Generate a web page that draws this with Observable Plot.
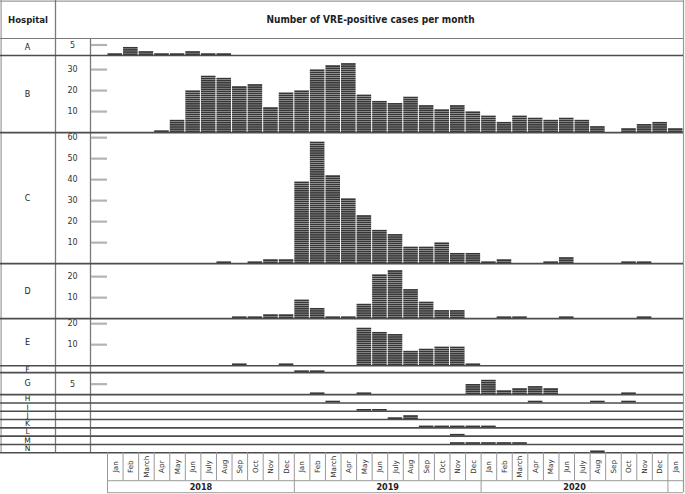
<!DOCTYPE html>
<html><head><meta charset="utf-8">
<script src="https://cdn.jsdelivr.net/npm/d3@7"></script>
<script src="https://cdn.jsdelivr.net/npm/@observablehq/plot@0.6"></script>
<style>
html,body{margin:0;padding:0;background:#fff;}
#chart svg{display:block;}
</style>
</head><body><div id="chart"></div>
<script>
// ---------- data ----------
const hospitals = ["A","B","C","D","E","F","G","H","I","J","K","L","M","N"];
const monthNames = ["Jan","Feb","March","Apr","May","Jun","July","Aug","Sep","Oct","Nov","Dec"];
const years = ["2018","2019","2020"];
const monthLabels = [...monthNames, ...monthNames, ...monthNames, "Jan"]; // Jan 2018 .. Jan 2021
const title = "Number of VRE-positive cases per month";

// monthly VRE-positive cases, Jan 2018 .. Jan 2021 (37 months)
const casesA = [1,4,2,1,1,2,1,1,0,0,0,0, 0,0,0,0,0,0,0,0,0,0,0,0, 0,0,0,0,0,0,0,0,0,0,0,0, 0];
const casesB = [0,0,0,1,6,20,27,26,22,23,12,19, 20,30,32,33,18,15,14,17,13,11,13,10, 8,5,8,7,6,7,6,3,0,2,4,5, 2];
const casesC = [0,0,0,0,0,0,0,1,0,1,2,2, 39,58,42,31,23,16,14,8,8,10,5,5, 1,2,0,0,1,3,0,0,0,1,1,0, 0];
const casesD = [0,0,0,0,0,0,0,0,1,1,2,2, 9,5,1,1,7,21,23,14,8,4,4,0, 0,1,1,0,0,1,0,0,0,0,1,0, 0];
const casesE = [0,0,0,0,0,0,0,0,1,0,0,1, 0,0,0,0,18,16,15,7,8,9,9,1, 0,0,0,0,0,0,0,0,0,0,0,0, 0];
const casesF = [0,0,0,0,0,0,0,0,0,0,0,0, 1,1,0,0,0,0,0,0,0,0,0,0, 0,0,0,0,0,0,0,0,0,0,0,0, 0];
const casesG = [0,0,0,0,0,0,0,0,0,0,0,0, 0,1,0,0,1,0,0,0,0,0,0,5, 7,2,3,4,3,0,0,0,0,1,0,0, 0];
const casesH = [0,0,0,0,0,0,0,0,0,0,0,0, 0,0,1,0,0,0,0,0,0,0,0,0, 0,0,0,1,0,0,0,1,0,1,0,0, 0];
const casesI = [0,0,0,0,0,0,0,0,0,0,0,0, 0,0,0,0,1,1,0,0,0,0,0,0, 0,0,0,0,0,0,0,0,0,0,0,0, 0];
const casesJ = [0,0,0,0,0,0,0,0,0,0,0,0, 0,0,0,0,0,0,1,2,0,0,0,0, 0,0,0,0,0,0,0,0,0,0,0,0, 0];
const casesK = [0,0,0,0,0,0,0,0,0,0,0,0, 0,0,0,0,0,0,0,0,1,1,1,1, 1,0,0,0,0,0,0,0,0,0,0,0, 0];
const casesL = [0,0,0,0,0,0,0,0,0,0,0,0, 0,0,0,0,0,0,0,0,0,0,1,0, 0,0,0,0,0,0,0,0,0,0,0,0, 0];
const casesM = [0,0,0,0,0,0,0,0,0,0,0,0, 0,0,0,0,0,0,0,0,0,0,1,1, 1,1,1,0,0,0,0,0,0,0,0,0, 0];
const casesN = [0,0,0,0,0,0,0,0,0,0,0,0, 0,0,0,0,0,0,0,0,0,0,0,0, 0,0,0,0,0,0,0,1,0,0,0,0, 0];
const allCases = [casesA,casesB,casesC,casesD,casesE,casesF,casesG,casesH,casesI,casesJ,casesK,casesL,casesM,casesN];

// y tick values shown per hospital
const ticksA = [5];
const ticksB = [10,20,30];
const ticksC = [10,20,30,40,50,60];
const ticksD = [10,20];
const ticksE = [10,20];
const ticksG = [5];
const allTicks = [ticksA,ticksB,ticksC,ticksD,ticksE,[],ticksG,[],[],[],[],[],[],[]];

// ---------- layout (in case units / month units) ----------
const W = 685, H = 494;
const UNIT = 2.1;                    // px per case
const X0 = 107, X1 = 683;            // month grid extent (px)
const MONTH = (X1 - X0) / 37;
const px2x = p => (p - X0) / MONTH;
const px2y = p => p / UNIT;
const headerSpan = px2y(38);
const rowSpan = [8.1, 36.7, 62.4, 26.2, 22.4, 3.3, 10.5, 3.95, 3.95, 3.95, 3.95, 3.95, 3.95, 3.95];
const base = [];
{ let acc = headerSpan; rowSpan.forEach((s, i) => { acc += s; base[i] = acc; }); }
const tableBottom = base[base.length - 1];
const monthRowBottom = tableBottom + px2y(28);
const yearRowBottom = monthRowBottom + px2y(12);

// derived mark data
const cells = [];
allCases.forEach((arr, h) => arr.forEach((v, m) => {
  for (let k = 0; k < v; k++) cells.push({m, lo: base[h] - k, hi: base[h] - k - 1});
}));
const tickRows = [];
allTicks.forEach((arr, h) => arr.forEach(v => tickRows.push({v, y: base[h] - v})));
const labelRows = hospitals.map((name, h) => ({name, y: base[h] - rowSpan[h] / 2, thin: rowSpan[h] < 5}));
const monthRows = monthLabels.map((t, i) => ({t, i}));
const yearRows = years.map((t, i) => ({t, i}));

const lineCol = "#7a7a7a";
const sepCol = "#4d4d4d";
const font = "'DejaVu Sans Condensed', 'DejaVu Sans', sans-serif";

const chart = Plot.plot({
  width: W, height: H, margin: 0,
  style: {fontFamily: "'DejaVu Sans', sans-serif", background: "#fff", overflow: "visible"},
  x: {domain: [0, 37], range: [X0, X1], axis: null},
  y: {domain: [0, H / UNIT], range: [0, H], axis: null},
  marks: [
    // outer frame and column dividers
    Plot.ruleY([0.25], {x1: px2x(0), x2: 37, stroke: "#999", strokeWidth: 1.2}),
    Plot.ruleX([px2x(0.6)], {y1: 0, y2: tableBottom, stroke: "#999", strokeWidth: 1.2}),
    Plot.ruleX([37], {y1: 0, y2: yearRowBottom, stroke: "#999", strokeWidth: 1.2}),
    Plot.ruleX([px2x(55)], {y1: 0, y2: tableBottom, stroke: lineCol, strokeWidth: 1.3}),
    Plot.ruleX([px2x(90)], {y1: headerSpan, y2: tableBottom, stroke: lineCol, strokeWidth: 1.3}),
    Plot.ruleY([headerSpan], {x1: px2x(0), x2: 37, stroke: lineCol, strokeWidth: 1.2}),
    // y ticks
    Plot.ruleY(tickRows, {y: "y", x1: px2x(91), x2: 0, stroke: "#b3b3b3", strokeWidth: 2.2}),
    Plot.text(tickRows, {x: px2x(72), y: "y", text: d => String(d.v), fontSize: 8, fill: "#333", fontFamily: "'DejaVu Sans', sans-serif"}),
    // bars: one stacked block per case
    Plot.rect(cells, {x1: "m", x2: d => d.m + 1, y1: "lo", y2: "hi", fill: "#363636", insetLeft: 0.5, insetRight: 0.5, insetTop: 0.35}),
    // row separators / baselines
    Plot.ruleY(base, {x1: px2x(0), x2: 37, stroke: sepCol, strokeWidth: 1.6}),
    // month / year grid
    Plot.ruleX(d3.range(38), {y1: tableBottom, y2: monthRowBottom, stroke: "#999", strokeWidth: 1}),
    Plot.ruleX([0, 12, 24, 36], {y1: monthRowBottom, y2: yearRowBottom, stroke: "#999", strokeWidth: 1}),
    Plot.ruleY([monthRowBottom, yearRowBottom], {x1: 0, x2: 37, stroke: "#999", strokeWidth: 1}),
    Plot.text(monthRows, {x: d => d.i + 0.5, y: (tableBottom + monthRowBottom) / 2, text: "t", rotate: -90, fontSize: 7.2, fill: "#333", fontFamily: "'DejaVu Sans', sans-serif"}),
    Plot.text(yearRows, {x: d => d.i * 12 + 6, y: (monthRowBottom + yearRowBottom) / 2, text: "t", fontSize: 9, fontWeight: "bold", fill: "#222", fontFamily: font}),
    // hospital labels
    Plot.text(labelRows, {x: px2x(27), y: "y", text: "name", fontSize: d => d.thin ? 7.5 : 8, fill: "#222", fontFamily: "'DejaVu Sans', sans-serif"}),
    // header
    Plot.text(["Hospital"], {x: px2x(27.5), y: headerSpan / 2, text: d => d, fontSize: 9.5, fontWeight: "bold", fill: "#222", fontFamily: font}),
    Plot.text([title], {x: px2x(370), y: headerSpan / 2, text: d => d, fontSize: 10, fontWeight: "bold", fill: "#222", fontFamily: font})
  ]
});
document.getElementById("chart").append(chart);
</script>
</body></html>
